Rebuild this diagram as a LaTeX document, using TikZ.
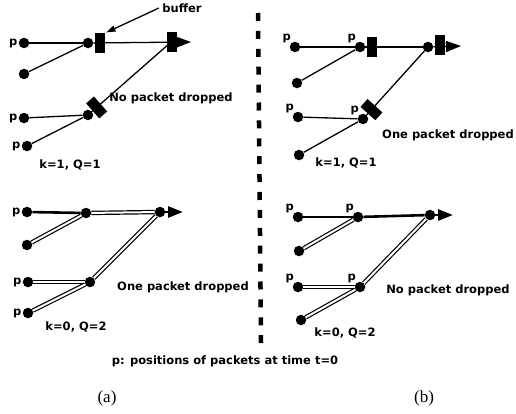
\documentclass[tikz,border=0pt]{standalone}
\usepackage{fontspec}
\usetikzlibrary{positioning,arrows.meta}
\newfontfamily\chicago{DejaVu Sans}[BoldFont={DejaVu Sans Bold}]
\newfontfamily\capfont{Liberation Serif}

\begin{document}
\begin{tikzpicture}[
  x=1pt, y=-1pt,
  font=\chicago\bfseries\fontsize{11.5}{13}\selectfont,
  % packet position
  pkt/.style={circle, fill=black, inner sep=0pt, minimum size=10.5pt},
  % p markers
  pl/.style={label={[inner sep=1pt]left:p}},
  pa/.style={label={[inner sep=0pt]above left:p}},
  % buffer block
  buf/.style={rectangle, fill=black, inner sep=0pt, minimum width=10.5pt, minimum height=20pt},
  % links
  link/.style={line width=1.3pt},
  heavy/.style={line width=2.6pt},
  dbl/.style={double, line width=1.2pt, double distance=2pt},
  tip/.style={-{Triangle[length=15pt, width=11pt]}},
]
\useasboundingbox (0,0) rectangle (516,413);

% ---------- (a) k=1, Q=1 ----------
\node[pkt, pl] (a1) at (24,43) {};
\node[pkt] (a2) at (24,74) {};
\node[pkt, pl] (a3) at (24,118) {};
\node[pkt, pl] (a4) at (27,146) {};
\node[pkt] (aj1) at (88,43) {};
\node[pkt] (aj2) at (88,115) {};
\coordinate (af) at (170,43);
\coordinate (aout) at (191,42);
\draw[link] (a1) -- (aj1);
\draw[link] (a2) -- (aj1);
\draw[link] (a3) -- (aj2);
\draw[link] (a4) -- (aj2);
\draw[link] (aj2) -- (af);
\draw[link, tip] (aj1) -- (aout);
\path (aj1.center) -- (af) node[buf, sloped, pos=0.148] (abuf) {};
\path (aj2.center) -- (af) node[buf, sloped, pos=0.105] (adia) {};
\node[buf] (abox) at (172,42) {};
\node (buflbl) at (182,8) {buffer};
\draw[link, -{Triangle[length=9pt, width=6pt]}, shorten >=1pt] (buflbl.west) -- (abuf.north east);
\node (ares1) at (171,98) {No packet dropped};
\node (akq1) at (70,165) {k=1, Q=1};

% ---------- (b) k=1, Q=1 ----------
\node[pkt, pa] (b1) at (295,47) {};
\node[pkt, pa] (bj1) at (360,47) {};
\node[pkt] (b2) at (297,83) {};
\node[pkt, pa] (b3) at (298,117) {};
\node[pkt, pa] (bj2) at (363,119) {};
\node[pkt] (b4) at (299,155) {};
\node[pkt] (bf) at (428,47) {};
\coordinate (bout) at (461,46);
\draw[link] (b1) -- (bj1);
\draw[link] (b2) -- (bj1);
\draw[link] (b3) -- (bj2);
\draw[link] (b4) -- (bj2);
\draw[link] (bj1) -- (bf);
\draw[link] (bj2) -- (bf);
\draw[link, tip] (bf) -- (bout);
\path (bj1.center) -- (bf.center) node[buf, sloped, pos=0.18] (bbuf) {};
\path (bj2.center) -- (bf.center) node[buf, sloped, pos=0.13] (bdia) {};
\node[buf] (bbox) at (440,45) {};
\node (bres1) at (448,135) {One packet dropped};
\node (bkq1) at (346,163) {k=1, Q=1};

% ---------- (a) k=0, Q=2 ----------
\node[pkt, pl] (c1) at (27,212) {};
\node[pkt] (c2) at (27,245) {};
\node[pkt, pl] (c3) at (28,282) {};
\node[pkt, pl] (c4) at (28,313) {};
\node[pkt] (cj1) at (86,213) {};
\node[pkt] (cj2) at (90,282) {};
\node[pkt] (cf) at (160,212) {};
\coordinate (cout) at (183,212);
\draw[heavy] (c1) -- (cj1);
\draw[dbl] (cj1) -- (cf);
\draw[dbl] (c2) -- (cj1);
\draw[dbl] (c3) -- (cj2);
\draw[dbl] (c4) -- (cj2);
\draw[dbl] (cj2) -- (cf);
\draw[heavy, tip] (cf) -- (cout);
\node (cres) at (183,287) {One packet dropped};
\node (ckq) at (76,327) {k=0, Q=2};

% ---------- (b) k=0, Q=2 ----------
\node[pkt, pa] (d1) at (298,217) {};
\node[pkt, pa] (dj1) at (358,217) {};
\node[pkt] (d2) at (299,251) {};
\node[pkt, pa] (d3) at (298,287) {};
\node[pkt, pa] (dj2) at (360,287) {};
\node[pkt] (d4) at (301,320) {};
\node[pkt] (df) at (430,215) {};
\coordinate (dout) at (453,215);
\draw[heavy] (d1) -- (dj1);
\draw[heavy] (dj1) -- (df);
\draw[dbl] (d2) -- (dj1);
\draw[dbl] (d3) -- (dj2);
\draw[dbl] (d4) -- (dj2);
\draw[dbl] (dj2) -- (df);
\draw[heavy, tip] (df) -- (dout);
\node (dres) at (448,290) {No packet dropped};
\node (dkq) at (345,333) {k=0, Q=2};

% ---------- divider and captions ----------
\coordinate (divtop) at (258,13);
\coordinate (divbot) at (261,343);
\draw[line width=4.5pt, dash pattern=on 8pt off 9.9pt] (divtop) -- (divbot);
\node (note) at (225,361) {p: positions of packets at time t=0};
\node[font=\capfont\fontsize{17}{19}\selectfont] (capa) at (107,398) {(a)};
\node[font=\capfont\fontsize{17}{19}\selectfont] (capb) at (424,398) {(b)};

\end{tikzpicture}
\end{document}
